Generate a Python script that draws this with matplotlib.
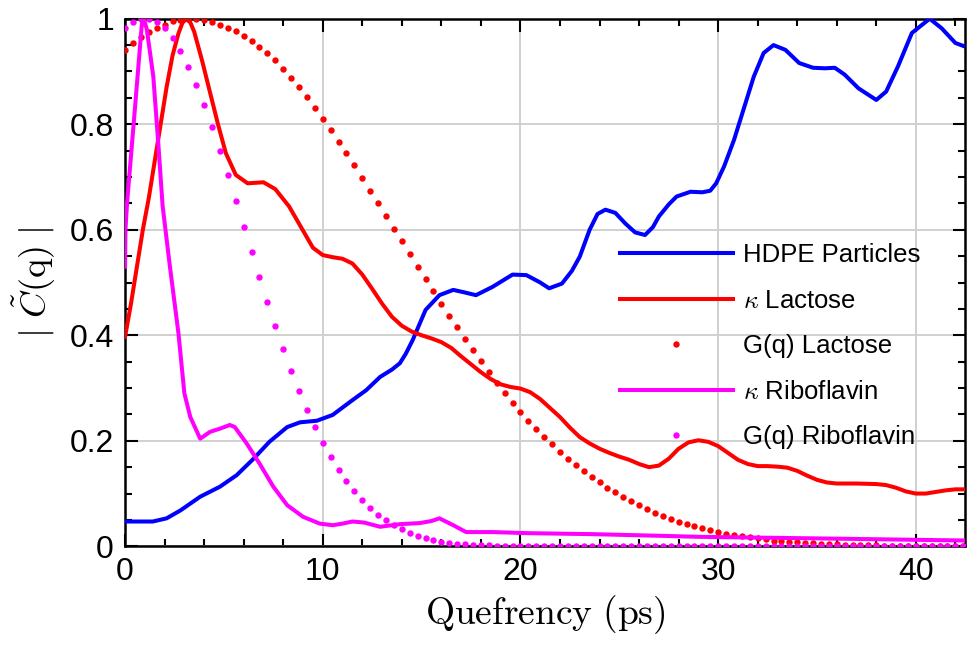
import numpy as np
import matplotlib
matplotlib.use("Agg")
from matplotlib import pyplot as plt
from matplotlib.ticker import MultipleLocator, FuncFormatter

plt.rcParams["font.family"] = ["Liberation Sans", "DejaVu Sans"]
plt.rcParams["mathtext.fontset"] = "cm"

# HDPE Particles (solid blue)
hdpe_x = [0, 0.7, 1.4, 2.1, 2.8, 3.8, 4.8, 5.65, 6.5, 7.3, 8.2, 8.85, 9.7, 10.5, 11.5,
          12.2, 12.9, 13.5, 13.9, 14.2, 14.55, 15.2, 15.9, 16.6, 17.2, 17.75, 18.6, 19.6,
          20.3, 21.0, 21.45, 22.1, 22.6, 23.0, 23.5, 23.9, 24.3, 24.8, 25.3, 25.8, 26.3,
          26.7, 27.0, 27.5, 27.9, 28.6, 29.2, 29.6, 29.9, 30.3, 30.8, 31.3, 31.8, 32.3,
          32.8, 33.4, 34.1, 34.8, 35.4, 35.9, 36.4, 37.1, 38.0, 38.5, 39.1, 39.8, 40.7,
          41.3, 42.0, 42.5]
hdpe_y = [0.047, 0.047, 0.047, 0.053, 0.068, 0.094, 0.113, 0.135, 0.166, 0.198, 0.226,
          0.235, 0.238, 0.249, 0.277, 0.296, 0.321, 0.335, 0.347, 0.365, 0.391, 0.448,
          0.476, 0.486, 0.481, 0.476, 0.492, 0.515, 0.514, 0.50, 0.489, 0.498, 0.522,
          0.549, 0.60, 0.63, 0.638, 0.632, 0.612, 0.595, 0.59, 0.605, 0.625, 0.648,
          0.663, 0.672, 0.671, 0.674, 0.688, 0.72, 0.77, 0.83, 0.89, 0.935, 0.95, 0.941,
          0.916, 0.907, 0.906, 0.907, 0.894, 0.868, 0.846, 0.862, 0.91, 0.973, 1.0,
          0.982, 0.954, 0.947]

# kappa Lactose (solid red)
lac_x = [0, 0.3, 0.6, 0.9, 1.2, 1.5, 1.8, 2.1, 2.4, 2.7, 2.9, 3.1, 3.3, 3.5, 3.9, 4.3,
         4.7, 5.1, 5.6, 6.2, 7.0, 7.6, 8.3, 8.9, 9.5, 10.0, 10.5, 11.0, 11.5, 12.0, 12.5,
         13.0, 13.5, 14.0, 14.5, 15.0, 15.5, 16.0, 16.5, 17.0, 17.5, 18.0, 18.5, 19.0,
         19.5, 20.0, 20.5, 21.0, 21.5, 22.0, 22.5, 23.0, 23.5, 24.0, 24.5, 25.0, 25.5,
         26.0, 26.5, 27.0, 27.5, 28.0, 28.5, 29.0, 29.5, 30.0, 30.5, 31.0, 31.5, 32.0,
         32.5, 33.0, 33.5, 34.0, 34.5, 35.0, 35.5, 36.0, 37.0, 38.0, 38.5, 39.0, 39.5,
         40.0, 40.5, 41.0, 41.5, 42.0, 42.5]
lac_y = [0.397, 0.46, 0.53, 0.60, 0.66, 0.73, 0.80, 0.87, 0.93, 0.972, 0.992, 1.0,
         0.993, 0.975, 0.92, 0.86, 0.80, 0.745, 0.704, 0.688, 0.69, 0.677, 0.644, 0.605,
         0.566, 0.552, 0.548, 0.545, 0.536, 0.515, 0.488, 0.46, 0.435, 0.418, 0.407,
         0.40, 0.394, 0.387, 0.376, 0.36, 0.345, 0.33, 0.317, 0.307, 0.302, 0.299,
         0.292, 0.279, 0.262, 0.245, 0.225, 0.207, 0.195, 0.185, 0.177, 0.17, 0.164,
         0.156, 0.15, 0.153, 0.166, 0.185, 0.197, 0.201, 0.198, 0.19, 0.177, 0.164,
         0.156, 0.152, 0.152, 0.151, 0.149, 0.143, 0.134, 0.126, 0.121, 0.119, 0.119,
         0.118, 0.116, 0.111, 0.104, 0.10, 0.10, 0.103, 0.106, 0.108, 0.108]

# kappa Riboflavin (solid magenta)
ribo_x = [0, 0.02, 0.1, 0.5, 0.85, 0.95, 1.1, 1.43, 1.68, 1.9, 2.27, 2.7, 3.0, 3.3, 3.8,
          4.3, 4.8, 5.3, 5.55, 6.15, 6.8, 7.5, 8.2, 9.0, 9.85, 10.5, 11.0, 11.5, 12.1,
          12.9, 13.9, 14.9, 15.5, 15.9, 16.6, 17.25, 18.6, 20.3, 23.7, 27.0, 29.0, 35.0,
          42.5]
ribo_y = [0.53, 0.60, 0.65, 0.83, 0.99, 1.0, 0.98, 0.89, 0.764, 0.645, 0.53, 0.404,
          0.29, 0.245, 0.204, 0.217, 0.223, 0.23, 0.226, 0.195, 0.157, 0.113, 0.078,
          0.056, 0.043, 0.040, 0.043, 0.047, 0.045, 0.037, 0.042, 0.044, 0.048, 0.053,
          0.04, 0.027, 0.027, 0.025, 0.023, 0.02, 0.018, 0.015, 0.011]

# G(q) curves, sampled every 0.4 ps (dotted)
gq_x = np.round(np.arange(107) * 0.4, 1)
gq_lac = [0.941, 0.954, 0.965, 0.974, 0.982, 0.989, 0.995, 0.998, 1.000, 1.000,
          0.998, 0.994, 0.989, 0.983, 0.976, 0.968, 0.958, 0.947, 0.935, 0.921,
          0.905, 0.888, 0.870, 0.851, 0.831, 0.810, 0.789, 0.767, 0.745, 0.722,
          0.698, 0.674, 0.650, 0.626, 0.602, 0.578, 0.554, 0.530, 0.506, 0.483,
          0.460, 0.437, 0.415, 0.393, 0.372, 0.351, 0.330, 0.310, 0.291, 0.272,
          0.255, 0.238, 0.222, 0.207, 0.193, 0.179, 0.166, 0.154, 0.142, 0.131,
          0.121, 0.111, 0.102, 0.094, 0.086, 0.078, 0.071, 0.064, 0.058, 0.052,
          0.047, 0.042, 0.038, 0.034, 0.030, 0.027, 0.024, 0.021, 0.019, 0.017,
          0.015, 0.013, 0.011, 0.010, 0.009, 0.008, 0.007, 0.006, 0.005, 0.004,
          0.004, 0.003, 0.003, 0.002, 0.002, 0.002, 0.001, 0.001, 0.001, 0.001,
          0.001, 0.001, 0.0, 0.0, 0.0, 0.0, 0.0]
gq_ribo = [0.982, 0.993, 0.999, 1.000, 0.993, 0.982, 0.963, 0.938, 0.908, 0.875,
           0.837, 0.794, 0.750, 0.703, 0.655, 0.606, 0.558, 0.510, 0.463, 0.417,
           0.374, 0.333, 0.295, 0.259, 0.226, 0.196, 0.169, 0.145, 0.124, 0.105,
           0.088, 0.073, 0.060, 0.049, 0.040, 0.032, 0.026, 0.020, 0.016, 0.012,
           0.009, 0.007, 0.005, 0.004, 0.003, 0.002, 0.002, 0.001, 0.001, 0.0,
           0.0, 0.0, 0.0, 0.0, 0.0, 0.0, 0.0, 0.0, 0.0, 0.0,
           0.0, 0.0, 0.0, 0.0, 0.0, 0.0, 0.0, 0.0, 0.0, 0.0,
           0.0, 0.0, 0.0, 0.0, 0.0, 0.0, 0.0, 0.0, 0.0, 0.0,
           0.0, 0.0, 0.0, 0.0, 0.0, 0.0, 0.0, 0.0, 0.0, 0.0,
           0.0, 0.0, 0.0, 0.0, 0.0, 0.0, 0.0, 0.0, 0.0, 0.0,
           0.0, 0.0, 0.0, 0.0, 0.0, 0.0, 0.0]

fig = plt.figure(figsize=(9.77, 6.45), dpi=100)
ax = fig.add_axes([0.128, 0.153, 0.86, 0.818])

ax.plot(hdpe_x, hdpe_y, color="#0000ff", lw=2.9, label="HDPE Particles", zorder=3,
        solid_joinstyle="round")
ax.plot(lac_x, lac_y, color="#ff0000", lw=2.9, label=r"$\kappa$ Lactose", zorder=3,
        solid_joinstyle="round")
ax.plot(gq_x, gq_lac, ls="none", marker="o", ms=4.6, color="#ff0000",
        mec="none", label="G(q) Lactose", zorder=3)
ax.plot(ribo_x, ribo_y, color="#ff00ff", lw=2.9, label=r"$\kappa$ Riboflavin", zorder=3,
        solid_joinstyle="round")
ax.plot(gq_x, gq_ribo, ls="none", marker="o", ms=4.6, color="#ff00ff",
        mec="none", label="G(q) Riboflavin", zorder=3)

ax.set_xlim(0, 42.5)
ax.set_ylim(0, 1)
ax.xaxis.set_major_locator(MultipleLocator(10))
ax.xaxis.set_minor_locator(MultipleLocator(2))
ax.yaxis.set_major_locator(MultipleLocator(0.2))
ax.yaxis.set_minor_locator(MultipleLocator(0.05))
ax.yaxis.set_major_formatter(FuncFormatter(lambda v, p: "%g" % round(v, 2)))
ax.tick_params(which="both", direction="in", top=True, right=True, width=1.5,
               labelsize=23, pad=8)
ax.tick_params(which="major", length=9)
ax.tick_params(which="minor", length=5)
for s in ax.spines.values():
    s.set_linewidth(1.8)
ax.grid(True, which="major", color="#d0d0d0", lw=1.4, zorder=0)
ax.set_axisbelow(True)

ax.set_xlabel(r"$\mathrm{Quefrency\ (ps)}$", fontsize=27, labelpad=4)
ax.set_ylabel(r"$|\ \tilde{C}(\mathrm{q})\ |$", fontsize=26, labelpad=8)

ax.legend(loc="upper left", bbox_to_anchor=(0.589, 0.575), frameon=False,
          fontsize=18.5, handlelength=4.4, handletextpad=0.4, labelspacing=0.84,
          numpoints=1, borderaxespad=0, borderpad=0)

fig.savefig("out.png", dpi=100)
